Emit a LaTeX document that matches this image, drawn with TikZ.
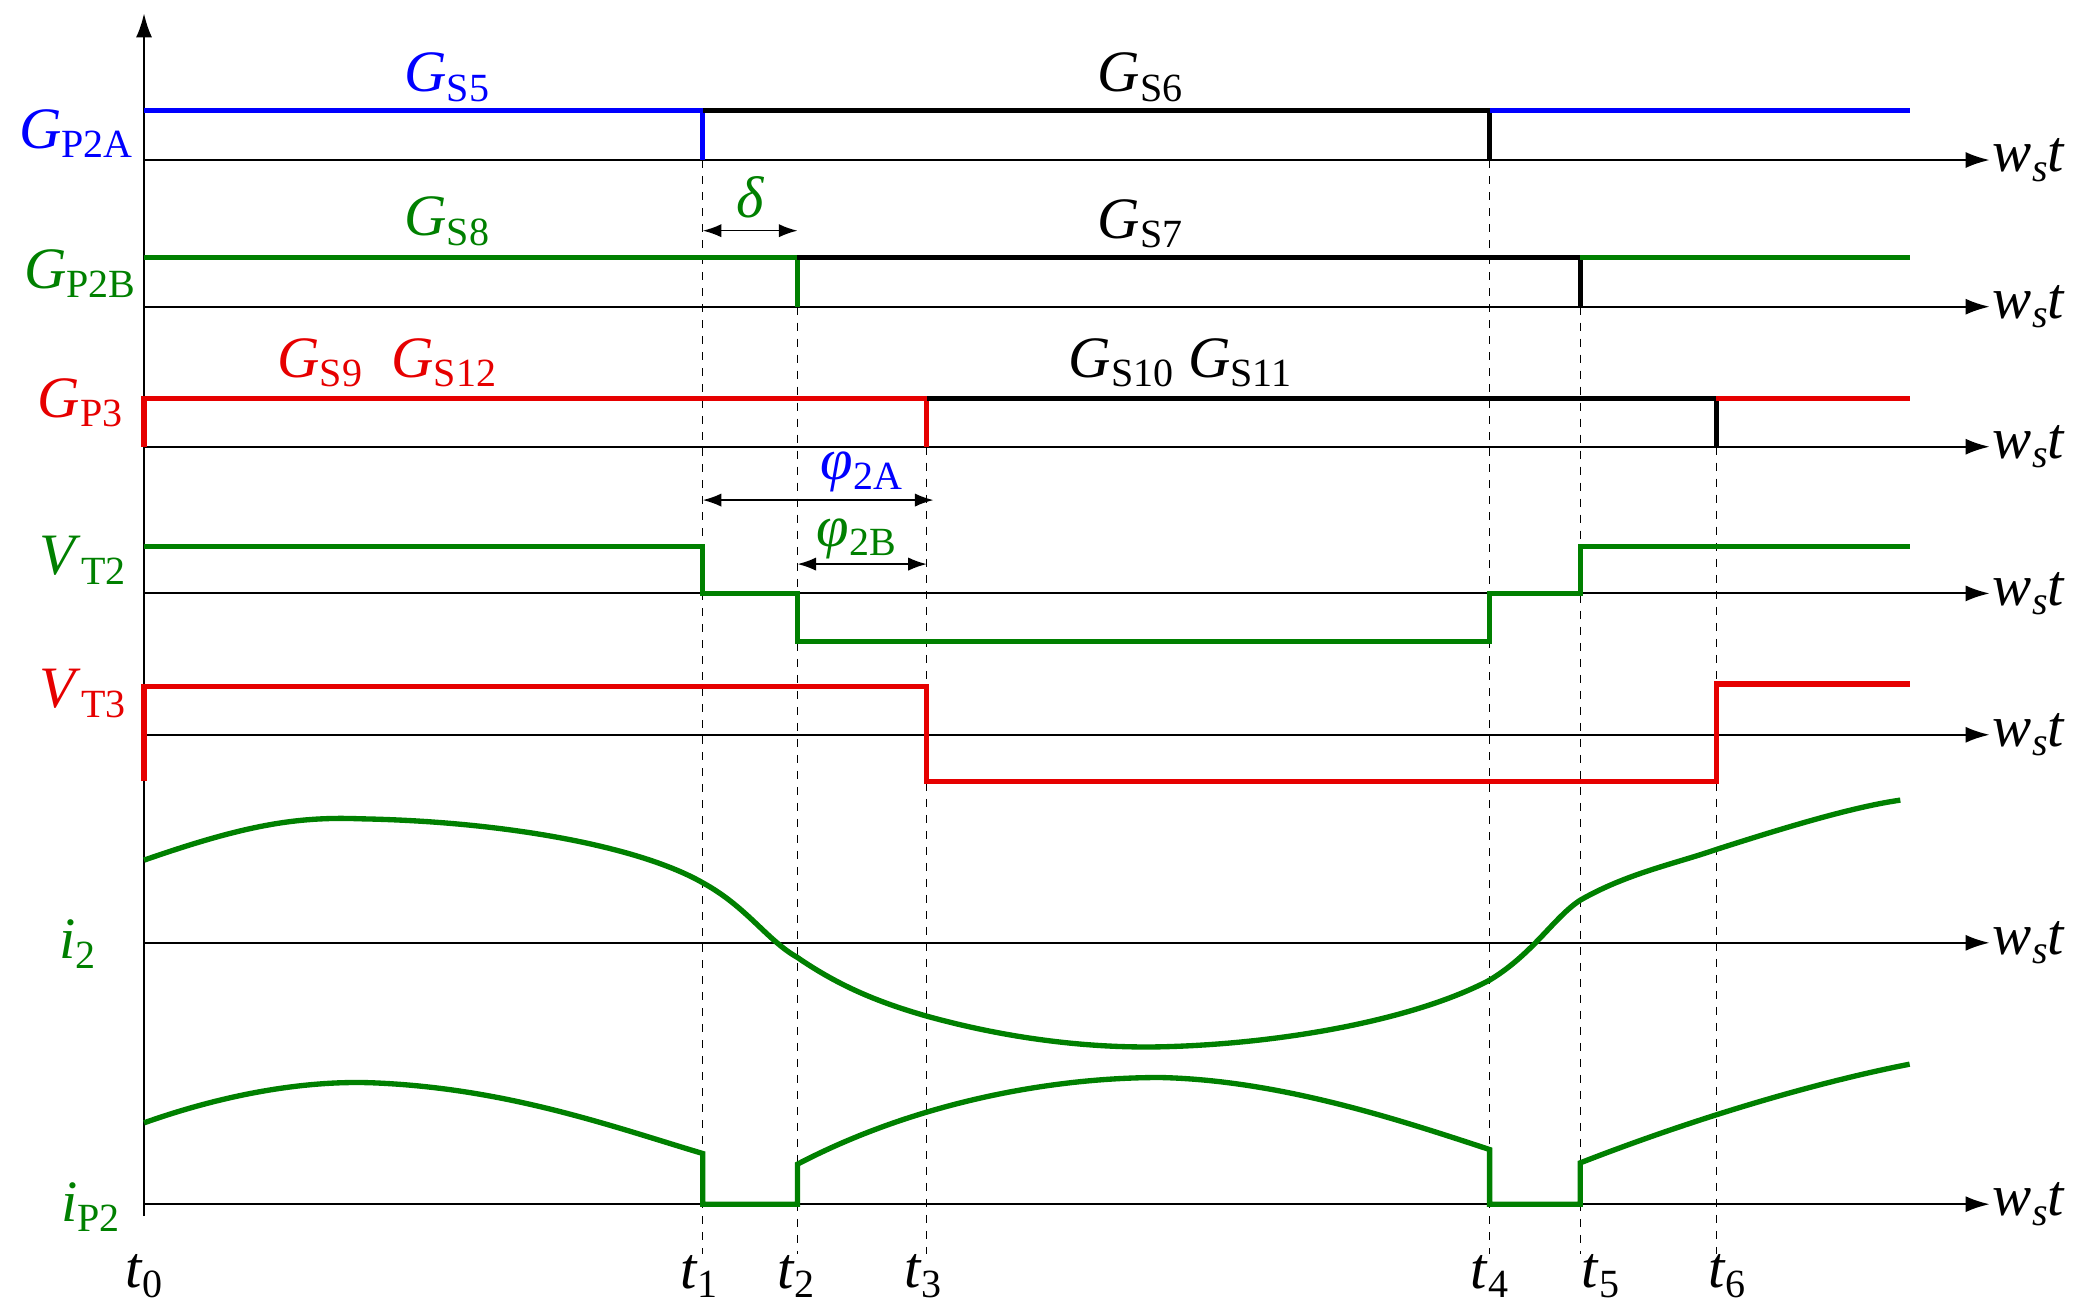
\documentclass[tikz,border=0pt]{standalone}
\usepackage{fontspec}
\setmainfont{Liberation Serif}
\usetikzlibrary{arrows.meta}
\definecolor{gr}{RGB}{0,128,0}
\definecolor{bl}{RGB}{0,0,255}
\definecolor{rd}{RGB}{230,0,0}
\newcommand{\lsub}[1]{\raisebox{-0.35ex}{\fontsize{15}{15}\selectfont #1}}
\newcommand{\lsubi}[1]{\raisebox{-0.35ex}{\fontsize{15}{15}\selectfont\itshape #1}}
\begin{document}
\begin{tikzpicture}[x=0.5pt,y=-0.5pt,
  ax/.style={line width=0.8pt,-{Latex[length=9pt,width=6pt]}},
  sig/.style={line width=2pt},
  dsh/.style={dashed,line width=0.5pt},
  lab/.style={font=\fontsize{22}{24}\selectfont,inner sep=0pt},
  dim/.style={line width=0.6pt,{Latex[length=7pt,width=5pt]}-{Latex[length=7pt,width=5pt]}}]
\useasboundingbox (0,0) rectangle (1568,983);
% dashed lines
\draw[dsh] (527,120) -- (527,940);
\draw[dsh] (598,230) -- (598,940);
\draw[dsh] (695,335) -- (695,940);
\draw[dsh] (1117,120) -- (1117,940);
\draw[dsh] (1185,230) -- (1185,940);
\draw[dsh] (1287,335) -- (1287,940);
% axes
\coordinate (o) at (108,912);
\coordinate (top) at (108,10);
\draw[ax] (o) -- (top);
\foreach \y in {120,230,335,445,551,707,903}{
  \draw[ax] (108,\y) -- (1492,\y);
  \node[lab,anchor=west] at (1494,\y) {\textit{w}\lsubi{s}\textit{t}};
}
% GP2A
\draw[sig,bl] (108,83) -- (527,83) -- (527,120);
\draw[sig,black] (527,83) -- (1117,83) -- (1117,120);
\draw[sig,bl] (1117,83) -- (1432,83);
% GP2B
\draw[sig,gr] (108,193) -- (598,193) -- (598,230);
\draw[sig,black] (598,193) -- (1185,193) -- (1185,230);
\draw[sig,gr] (1185,193) -- (1432,193);
% GP3
\draw[sig,rd] (108,335) -- (108,299) -- (695,299) -- (695,335);
\draw[sig,black] (695,299) -- (1287,299) -- (1287,335);
\draw[sig,rd] (1287,299) -- (1432,299);
% VT2
\draw[sig,gr] (108,410) -- (527,410) -- (527,445) -- (598,445) -- (598,481) -- (1117,481) -- (1117,445) -- (1185,445) -- (1185,410) -- (1432,410);
% VT3
\draw[sig,rd] (108,586) -- (108,515) -- (695,515) -- (695,586) -- (1287,586) -- (1287,513) -- (1432,513);
% i2
\draw[sig,gr] (108,645) .. controls (180,620) and (220,612) .. (270,614)
  .. controls (380,616) and (480,635) .. (527,662)
  .. controls (560,680) and (575,705) .. (598,718)
  .. controls (630,740) and (660,752) .. (695,762)
  .. controls (760,780) and (820,786) .. (870,785)
  .. controls (960,783) and (1060,765) .. (1117,735)
  .. controls (1150,715) and (1165,688) .. (1185,675)
  .. controls (1220,655) and (1255,648) .. (1287,637)
  .. controls (1340,620) and (1390,605) .. (1425,600);
% iP2
\draw[sig,gr] (108,842) .. controls (170,820) and (230,810) .. (280,812)
  .. controls (380,816) and (460,845) .. (527,865) -- (527,903) -- (598,903) -- (598,873)
  .. controls (680,830) and (780,808) .. (870,808)
  .. controls (960,810) and (1050,840) .. (1117,862) -- (1117,903) -- (1185,903) -- (1185,872)
  .. controls (1280,835) and (1370,810) .. (1432,798);
% left labels
\node[lab,bl] (lGP2A) at (57,100) {\textit{G}\lsub{P2A}};
\node[lab,gr] (lGP2B) at (60,205) {\textit{G}\lsub{P2B}};
\node[lab,rd] (lGP3) at (60,302) {\textit{G}\lsub{P3}};
\node[lab,gr] (lVT2) at (62,420) {\textit{V}\lsub{T2}};
\node[lab,rd] (lVT3) at (62,520) {\textit{V}\lsub{T3}};
\node[lab,gr] (li2) at (58,708) {\textit{i}\lsub{2}};
\node[lab,gr] (liP2) at (68,905) {\textit{i}\lsub{P2}};
% top labels
\node[lab,bl] (s5) at (335,58) {\textit{G}\lsub{S5}};
\node[lab] (s6) at (855,58) {\textit{G}\lsub{S6}};
\node[lab,gr] (s8) at (335,166) {\textit{G}\lsub{S8}};
\node[lab] (s7) at (855,168) {\textit{G}\lsub{S7}};
\node[lab,rd] (s9) at (290,272) {\textit{G}\lsub{S9}\ \ \textit{G}\lsub{S12}};
\node[lab] (s10) at (885,272) {\textit{G}\lsub{S10}\ \textit{G}\lsub{S11}};
% dimension arrows
\coordinate (d1) at (527,173); \coordinate (d2) at (598,173);
\draw[dim] (d1) -- (d2);
\node[lab,gr] (ld) at (563,148) {\textit{δ}};
\coordinate (a1) at (527,375); \coordinate (a2) at (700,375);
\draw[dim] (a1) -- (a2);
\node[lab,bl] (la) at (646,354) {\textit{φ}\lsub{2A}};
\coordinate (b1) at (598,423); \coordinate (b2) at (695,423);
\draw[dim] (b1) -- (b2);
\node[lab,gr] (lb) at (642,404) {\textit{φ}\lsub{2B}};
% time labels
\foreach \n/\x in {0/108,1/524,2/597,3/692,4/1117,5/1200,6/1295}{
  \node[lab] (lt\n) at (\x,957) {\textit{t}\lsub{\n}};
}
\end{tikzpicture}
\end{document}
